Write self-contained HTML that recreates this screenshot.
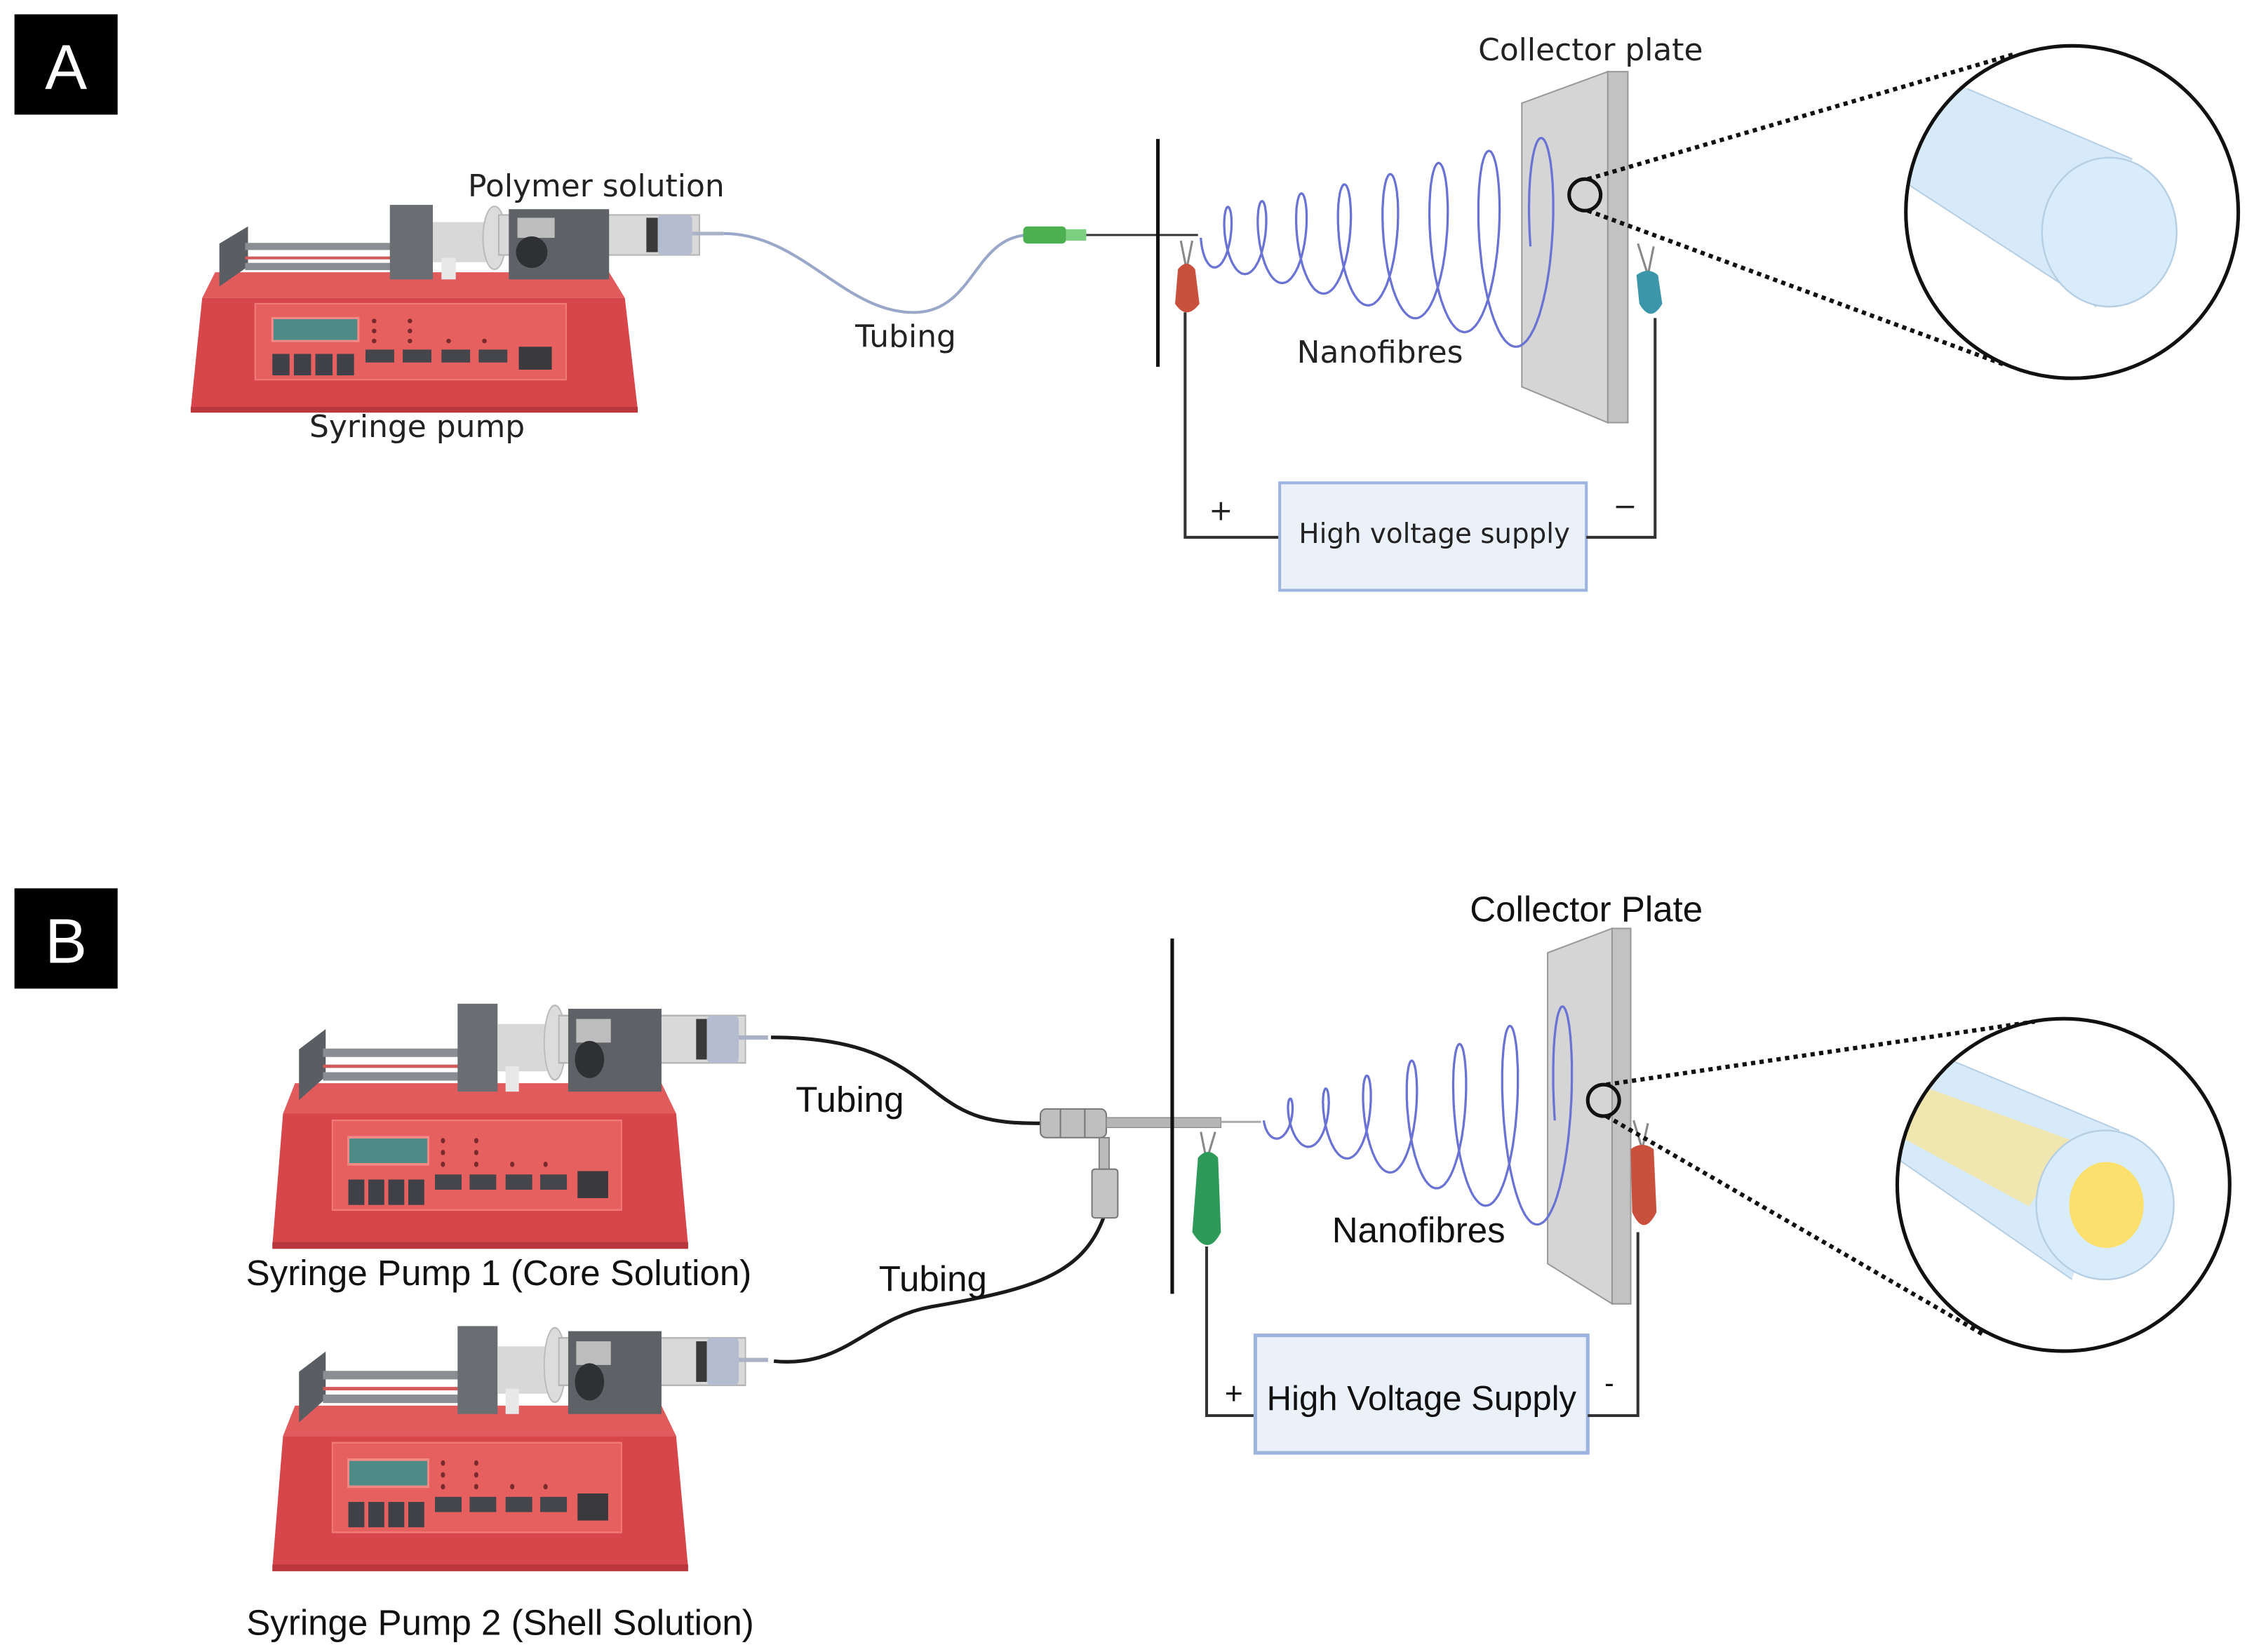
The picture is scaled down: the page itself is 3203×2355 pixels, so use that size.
<!DOCTYPE html>
<html><head><meta charset="utf-8"><style>
html,body{margin:0;padding:0;background:#fff;}
svg{display:block;}
.a{font-family:"DejaVu Sans","Liberation Sans",sans-serif;fill:#222;}
.b{font-family:"Liberation Sans",sans-serif;fill:#111;}
</style></head><body>
<svg id="s" width="3203" height="2355" viewBox="0 0 1568 1153" xmlns="http://www.w3.org/2000/svg">
<defs>
<g id="pump">
  <polygon points="17,50 292,50 303,68 8,68" fill="#e15a5c"/>
  <polygon points="8,68 303,68 312,146 0,146" fill="#d6464b"/>
  <rect x="0" y="144" width="312" height="4" fill="#b9373c"/>
  <rect x="45" y="72" width="217" height="53" fill="#e6605f" stroke="#f27b79" stroke-width="1"/>
  <rect x="57" y="82" width="60" height="16" fill="#4e8a86" stroke="#f28a88" stroke-width="1.5"/>
  <rect x="57" y="107" width="12" height="15" fill="#404048"/>
  <rect x="72" y="107" width="12" height="15" fill="#404048"/>
  <rect x="87" y="107" width="12" height="15" fill="#404048"/>
  <rect x="102" y="107" width="12" height="15" fill="#404048"/>
  <g fill="#7a2a2c"><circle cx="128" cy="84" r="1.6"/><circle cx="128" cy="91" r="1.6"/><circle cx="128" cy="98" r="1.6"/>
  <circle cx="153" cy="84" r="1.6"/><circle cx="153" cy="91" r="1.6"/><circle cx="153" cy="98" r="1.6"/>
  <circle cx="180" cy="98" r="1.6"/><circle cx="205" cy="98" r="1.6"/></g>
  <rect x="122" y="104" width="20" height="9" fill="#45454c"/>
  <rect x="148" y="104" width="20" height="9" fill="#45454c"/>
  <rect x="175" y="104" width="20" height="9" fill="#45454c"/>
  <rect x="201" y="104" width="20" height="9" fill="#45454c"/>
  <rect x="229" y="102" width="23" height="16" fill="#3a3a3e"/>
  <polygon points="20,30 40,18 40,46 20,60" fill="#5a5d62"/>
  <line x1="38" y1="32" x2="150" y2="32" stroke="#8a8d92" stroke-width="5"/>
  <line x1="38" y1="40" x2="150" y2="40" stroke="#d25a5a" stroke-width="2"/>
  <line x1="38" y1="46" x2="150" y2="46" stroke="#8a8d92" stroke-width="5"/>
  <rect x="139" y="3" width="30" height="52" fill="#6a6d72"/>
  <rect x="169" y="15" width="45" height="28" fill="#d8d8d8"/>
  <rect x="175" y="40" width="10" height="15" fill="#e8e8e8"/>
  <ellipse cx="212" cy="26" rx="8" ry="22" fill="#dcdcdc" stroke="#bbb"/>
  <rect x="215" y="10" width="140" height="28" fill="#d9d9d9" stroke="#b5b5b5" stroke-width="1"/>
  <rect x="222" y="6" width="70" height="49" fill="#5e6166"/>
  <rect x="228" y="12" width="26" height="14" fill="#bdbdbd"/>
  <circle cx="238" cy="36" r="11" fill="#2e3033"/>
  <rect x="318" y="12" width="8" height="24" fill="#3a3a3a"/>
  <rect x="326" y="10" width="24" height="28" rx="3" fill="#b4bccf"/>
  <line x1="350" y1="23" x2="372" y2="23" stroke="#aab2c5" stroke-width="2.5"/>
</g>
<clipPath id="cA"><circle cx="1446" cy="148" r="116"/></clipPath>
<clipPath id="cB"><circle cx="1440" cy="827" r="116"/></clipPath>
</defs>

<rect x="10" y="10" width="72" height="70" fill="#000"/>
<text x="46" y="62" font-size="44" fill="#fff" text-anchor="middle" font-family="Liberation Sans,sans-serif">A</text>
<rect x="10" y="620" width="72" height="70" fill="#000"/>
<text x="46" y="672" font-size="44" fill="#fff" text-anchor="middle" font-family="Liberation Sans,sans-serif">B</text>

<!-- ========== A ========== -->
<use href="#pump" transform="translate(133,140)"/>
<path d="M505,163 C560,163 590,220 640,218 C680,216 680,165 718,164" fill="none" stroke="#9aa7c8" stroke-width="2"/>
<rect x="714" y="158" width="30" height="12" rx="3" fill="#4caf50"/>
<rect x="744" y="160" width="14" height="8" fill="#7bcf7e"/>
<line x1="758" y1="164" x2="836" y2="164" stroke="#333" stroke-width="1.5"/>
<line x1="808" y1="97" x2="808" y2="256" stroke="#111" stroke-width="2.5"/>
<path d="M824,168 L828,188 L832,168" fill="none" stroke="#888" stroke-width="1.5"/>
<path d="M822,188 Q828,180 834,188 L837,212 Q828,224 820,212 Z" fill="#c9503c"/>
<polyline points="827,218 827,375 893,375" fill="none" stroke="#333" stroke-width="2"/>
<rect x="893" y="337" width="214" height="75" fill="#eaf1fb" stroke="#9cb4de" stroke-width="2"/>
<text x="1001" y="379" font-size="19" text-anchor="middle" class="a">High voltage supply</text>
<text x="852" y="363" font-size="20" text-anchor="middle" class="a">+</text>
<text x="1134" y="360" font-size="20" text-anchor="middle" class="a">−</text>
<polyline points="1107,375 1155,375 1155,222" fill="none" stroke="#333" stroke-width="2"/>
<polygon points="1062,72 1122,50 1122,295 1062,270" fill="#d5d5d5" stroke="#999" stroke-width="1"/>
<polygon points="1122,50 1136,50 1136,295 1122,295" fill="#c2c2c2" stroke="#999" stroke-width="1"/>
<path d="M1143,170 L1150,192 L1154,172" fill="none" stroke="#888" stroke-width="1.5"/>
<path d="M1142,192 Q1150,186 1157,192 L1160,212 Q1152,226 1144,212 Z" fill="#3a96a8"/>
<path id="spA" fill="none" stroke="#6a72d4" stroke-width="1.6"/>
<circle cx="1106" cy="136" r="11" fill="none" stroke="#111" stroke-width="2.5"/>
<line x1="1108" y1="125" x2="1405" y2="38" stroke="#111" stroke-width="3" stroke-dasharray="3,3"/>
<line x1="1108" y1="147" x2="1400" y2="255" stroke="#111" stroke-width="3" stroke-dasharray="3,3"/>
<g clip-path="url(#cA)">
  <polygon points="1373,62 1488,111 1463,214 1332,129 1300,100 1330,40" fill="#d7eafa"/>
  <line x1="1373" y1="62" x2="1488" y2="111" stroke="#b7cfe3"/>
  <line x1="1332" y1="129" x2="1463" y2="214" stroke="#b7cfe3"/>
  <polygon points="1373,62 1330,40 1290,110 1332,129" fill="#d7eafa"/>
  <ellipse cx="1472" cy="162" rx="47" ry="52" fill="#d9ecfb" stroke="#b7cfe3" stroke-width="1.2"/>
</g>
<circle cx="1446" cy="148" r="116" fill="none" stroke="#111" stroke-width="2.5"/>

<text x="416" y="137" font-size="21.5" text-anchor="middle" class="a">Polymer solution</text>
<text x="632" y="242" font-size="21.5" text-anchor="middle" class="a">Tubing</text>
<text x="291" y="305" font-size="21.5" text-anchor="middle" class="a">Syringe pump</text>
<text x="963" y="253" font-size="21.5" text-anchor="middle" class="a">Nanofibres</text>
<text x="1110" y="42" font-size="21.5" text-anchor="middle" class="a">Collector plate</text>

<!-- ========== B ========== -->
<use href="#pump" transform="translate(190,697) scale(0.93,1.18)"/>
<use href="#pump" transform="translate(190,922) scale(0.93,1.18)"/>
<path d="M538,724 C600,724 625,740 650,760 C675,780 690,784 726,784" fill="none" stroke="#1a1a1a" stroke-width="2.5"/>
<path d="M540,950 C590,955 605,920 650,912 C720,900 755,890 770,850" fill="none" stroke="#1a1a1a" stroke-width="2.5"/>
<rect x="726" y="774" width="46" height="20" rx="4" fill="#bfbfbf" stroke="#777"/>
<line x1="740" y1="774" x2="740" y2="794" stroke="#777"/>
<line x1="757" y1="774" x2="757" y2="794" stroke="#777"/>
<rect x="767" y="794" width="7" height="22" fill="#bbb" stroke="#777" stroke-width=".8"/>
<rect x="762" y="816" width="18" height="34" rx="2" fill="#c4c4c4" stroke="#777"/>
<rect x="772" y="780" width="80" height="7" fill="#b5b5b5" stroke="#888" stroke-width=".6"/>
<line x1="852" y1="783" x2="880" y2="783" stroke="#aaa" stroke-width="1.5"/>
<line x1="818" y1="655" x2="818" y2="903" stroke="#111" stroke-width="2.5"/>
<path d="M838,790 L842,810 L848,790" fill="none" stroke="#888" stroke-width="1.5"/>
<path d="M836,808 Q843,800 850,808 L852,860 Q843,878 832,860 Z" fill="#2e9a5a"/>
<polyline points="842,870 842,988 876,988" fill="none" stroke="#333" stroke-width="2"/>
<rect x="876" y="932" width="232" height="82" fill="#eaf1fb" stroke="#9cb4de" stroke-width="2.5"/>
<text x="992" y="984" font-size="24" text-anchor="middle" class="b">High Voltage Supply</text>
<text x="861" y="980" font-size="22" text-anchor="middle" class="b">+</text>
<text x="1123" y="972" font-size="20" text-anchor="middle" class="b">-</text>
<polyline points="1108,988 1143,988 1143,860" fill="none" stroke="#333" stroke-width="2"/>
<polygon points="1080,665 1125,648 1125,910 1080,882" fill="#d5d5d5" stroke="#999" stroke-width="1"/>
<polygon points="1125,648 1138,648 1138,910 1125,910" fill="#c2c2c2" stroke="#999" stroke-width="1"/>
<path d="M1140,782 L1146,802 L1150,784" fill="none" stroke="#888" stroke-width="1.5"/>
<path d="M1138,802 Q1146,796 1154,802 L1156,846 Q1147,864 1139,846 Z" fill="#c9503c"/>
<path id="spB" fill="none" stroke="#6a72d4" stroke-width="1.6"/>
<circle cx="1119" cy="768" r="11" fill="none" stroke="#111" stroke-width="2.5"/>
<line x1="1121" y1="757" x2="1420" y2="713" stroke="#111" stroke-width="3" stroke-dasharray="3,3"/>
<line x1="1121" y1="779" x2="1385" y2="932" stroke="#111" stroke-width="3" stroke-dasharray="3,3"/>
<g clip-path="url(#cB)">
  <polygon points="1364,741 1479,789 1446,893 1326,810 1290,790 1330,720" fill="#d7eafa"/>
  <polygon points="1333,755 1446,796 1416,842 1331,796 1300,790 1310,750" fill="#f0e6b0"/>
  <line x1="1364" y1="741" x2="1479" y2="789" stroke="#b7cfe3"/>
  <line x1="1326" y1="810" x2="1446" y2="893" stroke="#b7cfe3"/>
  <ellipse cx="1469" cy="841" rx="48" ry="52" fill="#d9ecfb" stroke="#b7cfe3" stroke-width="1.2"/>
  <ellipse cx="1470" cy="841" rx="26" ry="30" fill="#fbe06e"/>
</g>
<circle cx="1440" cy="827" r="116" fill="none" stroke="#111" stroke-width="2.5"/>

<text x="593" y="776" font-size="25" text-anchor="middle" class="b">Tubing</text>
<text x="651" y="901" font-size="25" text-anchor="middle" class="b">Tubing</text>
<text x="990" y="867" font-size="25" text-anchor="middle" class="b">Nanofibres</text>
<text x="1107" y="643" font-size="25" text-anchor="middle" class="b">Collector Plate</text>
<text x="348" y="897" font-size="25" text-anchor="middle" class="b">Syringe Pump 1 (Core Solution)</text>
<text x="349" y="1141" font-size="25" text-anchor="middle" class="b">Syringe Pump 2 (Shell Solution)</text>
</svg>
<script>
function sp(id,x0,x1,N,yc0,yc1,H0,H1,w0,w1){
  var d="",M=N*2*Math.PI,steps=1200;
  for(var i=0;i<=steps;i++){
    var t=M*i/steps,f=i/steps;
    var xc=x0+(x1-x0)*Math.pow(f,1.25);
    var w=w0+(w1-w0)*f, H=H0+(H1-H0)*Math.pow(f,1.4), yc=yc0+(yc1-yc0)*f;
    var x=xc-w*Math.cos(t)+w, y=yc+H*Math.sin(t);
    d+=(i?"L":"M")+x.toFixed(1)+","+y.toFixed(1);
  }
  document.getElementById(id).setAttribute("d",d);
}
sp("spA",838,1068,8,166,172,20,78,6,17);
sp("spB",882,1085,7,782,782,12,83,5,15);
</script>
</body></html>
